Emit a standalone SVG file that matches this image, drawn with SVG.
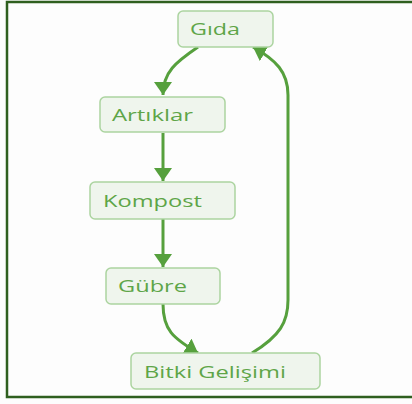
<svg xmlns="http://www.w3.org/2000/svg" width="412" height="404" viewBox="0 0 412 404">
<style>
.bg{fill:#fdfdfd}
.frame{fill:none;stroke:#2f5f1f;stroke-width:2.5}
.node rect{fill:#eff5ed;stroke:#acd4a0;stroke-width:1.5}
.node text{font-family:"Open Sans","Noto Sans",sans-serif;font-size:17px;fill:#5ea548}
.edge{fill:none;stroke:#56a03d;stroke-width:3}
</style>
<defs>
<marker id="ah" markerUnits="userSpaceOnUse" markerWidth="13" markerHeight="18" viewBox="0 0 13 18" refX="13" refY="9" orient="auto">
<path d="M0,0 L13,9 L0,18 Z" fill="#56a03d"/>
</marker>
</defs>
<rect class="bg" x="0" y="0" width="412" height="404"/>
<rect class="frame" x="7" y="2" width="410" height="395"/>
<g id="connectors">
<path class="edge" d="M198,47 C176,62 163,72 163,95" marker-end="url(#ah)"/>
<path class="edge" d="M163,133 L163,181" marker-end="url(#ah)"/>
<path class="edge" d="M163,219 L163,267" marker-end="url(#ah)"/>
<path class="edge" d="M163,304 C163,330 173,338 198,353" marker-end="url(#ah)"/>
<path class="edge" d="M252,353 C280,336 288,322 288,300 L288,95 C288,72 276,60 253,47" marker-end="url(#ah)"/>
</g>
<g id="gida" class="node">
<rect x="178" y="11" width="95" height="36" rx="5"/>
<text x="190" y="35" textLength="50" lengthAdjust="spacingAndGlyphs">Gıda</text>
</g>
<g id="artiklar" class="node">
<rect x="100" y="97" width="125" height="35" rx="5"/>
<text x="112" y="121" textLength="81" lengthAdjust="spacingAndGlyphs">Artıklar</text>
</g>
<g id="kompost" class="node">
<rect x="90" y="182" width="145" height="37" rx="5"/>
<text x="103" y="207" textLength="99" lengthAdjust="spacingAndGlyphs">Kompost</text>
</g>
<g id="gubre" class="node">
<rect x="106" y="268" width="114" height="36" rx="5"/>
<text x="118" y="292" textLength="69" lengthAdjust="spacingAndGlyphs">Gübre</text>
</g>
<g id="bitki" class="node">
<rect x="131" y="353" width="189" height="36" rx="5"/>
<text x="144" y="378" textLength="142" lengthAdjust="spacingAndGlyphs">Bitki Gelişimi</text>
</g>
</svg>
